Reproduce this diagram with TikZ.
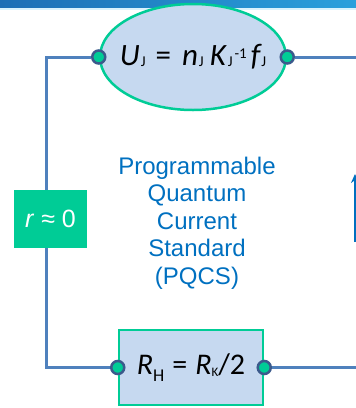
\documentclass[tikz,border=0pt]{standalone}
\usepackage{fontspec}
\usetikzlibrary{shapes.geometric,backgrounds,arrows.meta}
\newfontfamily\calibri{Carlito}
\newfontfamily\arial{Liberation Sans}
\definecolor{wireblue}{HTML}{4F81BD}
\definecolor{termnavy}{HTML}{3B5A8C}
\definecolor{mint}{HTML}{00CC96}
\definecolor{paleblue}{HTML}{C6D9F0}
\definecolor{textblue}{HTML}{0070C0}
\definecolor{bandleft}{HTML}{1C6FB5}
\definecolor{bandright}{HTML}{2AA0DC}
% small index: #1 size, #2 shift, #3 text
\newcommand{\idx}[3]{\raisebox{#2}{\upshape\fontsize{#1}{#1}\selectfont #3}}
\tikzset{
  wire/.style={draw=wireblue,line width=3pt},
  element/.style={draw=mint,fill=paleblue,line width=2.5pt,inner sep=0pt},
  terminal/.style={circle,draw=termnavy,fill=mint,line width=2.5pt,minimum size=13pt,inner sep=0pt},
  formula/.style={inner sep=0pt,font=\calibri},
}
\begin{document}
\begin{tikzpicture}[x=1pt,y=-1pt]
  \useasboundingbox (0,0) rectangle (356,408);
  \clip (0,0) rectangle (356,408);
  % title band
  \shade[left color=bandleft,right color=bandright] (0,0) rectangle (356,9);
  \fill[white!85!cyan] (0,8) rectangle (356,10);
  % Josephson side
  \node[element,ellipse,minimum width=186pt,minimum height=106pt] (uj) at (193,57) {};
  \node[formula] (ujtext) at (uj.center)
    {\fontsize{31pt}{31pt}\selectfont\itshape U\hspace{1pt}\idx{15pt}{-1pt}{J}\hspace{10pt}\upshape=\hspace{11pt}\itshape n\hspace{1pt}\idx{15pt}{-1pt}{J}\hspace{6pt}K\hspace{2pt}\idx{15pt}{-1pt}{J}\hspace{2pt}\idx{15pt}{7pt}{-1}\hspace{4pt}f\hspace{1pt}\idx{15pt}{-1pt}{J}};
  \node[terminal] (ujl) at (uj.west) {};
  \node[terminal] (ujr) at (uj.east) {};
  % quantum Hall side
  \node[element,rectangle,minimum width=144pt,minimum height=75pt] (rh) at (191,367.5) {};
  \node[formula] (rhtext) at (rh.center)
    {\fontsize{30pt}{30pt}\selectfont\itshape R\idx{18pt}{-7pt}{H}\hspace{8pt}\upshape=\hspace{8pt}\itshape R\idx{13pt}{-2pt}{K}\upshape/2};
  \node[terminal] (rhl) at (rh.west) {};
  \node[terminal] (rhr) at (rh.east) {};
  % link resistance
  \node[fill=mint,text=white,minimum width=73pt,minimum height=58pt,inner sep=0pt] (r) at (50.5,219)
    {\arial\fontsize{25pt}{25pt}\selectfont\textit{r} ≈ 0};
  \node[text=textblue,align=center,font=\arial\fontsize{24pt}{27.5pt}\selectfont] (pqcs) at (197,223)
    {Programmable\\Quantum\\Current\\Standard\\(PQCS)};
  \coordinate (outj) at (356,57);
  \coordinate (outh) at (356,367.5);
  \coordinate (af) at (355,242);
  \coordinate (at) at (355,174);
  \begin{scope}[on background layer]
    \draw[wire] (ujl) -- ++(-52,0) |- (rhl);
    \draw[wire] (ujr) -- (outj);
    \draw[wire] (rhr) -- (outh);
  \end{scope}
  \draw[textblue,line width=2pt,-{Stealth[length=9pt,width=8pt]}] (af) -- (at);
\end{tikzpicture}
\end{document}
